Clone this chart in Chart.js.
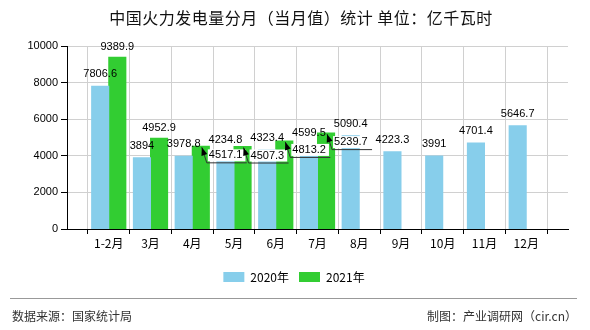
<!DOCTYPE html>
<html>
<head>
<meta charset="utf-8">
<script src="https://cdn.jsdelivr.net/npm/chart.js@4/dist/chart.umd.min.js"></script>
<style>
  html, body { margin: 0; padding: 0; background: #fff; }
  #wrap { position: relative; width: 590px; height: 330px; overflow: hidden; font-family: "Noto Sans CJK SC", sans-serif; }
  #chart { position: absolute; left: 0; top: 0; }
  #title { position: absolute; left: 6px; top: 6px; width: 590px; text-align: center; font-size: 16px; line-height: 22px; letter-spacing: 0.5px; color: #111; }
  #sep { position: absolute; left: 10px; top: 298px; width: 567px; height: 1px; background: #999; }
  #src { position: absolute; left: 12px; top: 307px; font-size: 12px; line-height: 18px; color: #333; }
  #maker { position: absolute; right: 13px; top: 307px; font-size: 12px; line-height: 18px; color: #333; }
</style>
</head>
<body>
<div id="wrap">
  <canvas id="chart" width="590" height="330"></canvas>
  <div id="title">中国火力发电量分月（当月值）统计 单位：亿千瓦时</div>
  <div id="sep"></div>
  <div id="src">数据来源：国家统计局</div>
  <div id="maker">制图：产业调研网（cir.cn）</div>
</div>
<script>
const categories = ['1-2月', '3月', '4月', '5月', '6月', '7月', '8月', '9月', '10月', '11月', '12月'];
const seriesNames = ['2020年', '2021年'];
const values2020 = [7806.6, 3894, 3978.8, 4234.8, 4323.4, 4599.5, 5090.4, 4223.3, 3991, 4701.4, 5646.7];
const values2021 = [9389.9, 4952.9, 4517.1, 4507.3, 4813.2, 5239.7, null, null, null, null, null];
const yTicks = [0, 2000, 4000, 6000, 8000, 10000];

Chart.defaults.font.family = '"Noto Sans CJK SC", "Liberation Sans", sans-serif';
Chart.defaults.color = '#000';

const labels = [''].concat(categories, ['']);
const pad = arr => [null].concat(arr, [null]);

const labelPlugin = {
  id: 'barLabels',
  afterDatasetsDraw(chart) {
    const ctx = chart.ctx;
    ctx.save();
    ctx.font = '11px "Liberation Sans", sans-serif';
    ctx.textBaseline = 'middle';
    ctx.fillStyle = '#000';
    const H = 12;
    const m0 = chart.getDatasetMeta(0), m1 = chart.getDatasetMeta(1);
    const d0 = chart.data.datasets[0].data, d1 = chart.data.datasets[1].data;
    const boxes = [];
    m0.data.forEach((bar, i) => {
      const v = d0[i];
      if (v == null) return;
      const t = String(v);
      const w = ctx.measureText(t).width;
      const cx = bar.x, cy = bar.y - 12;
      ctx.textAlign = 'center';
      ctx.fillText(t, cx, cy);
      boxes[i] = { l: cx - w / 2, r: cx + w / 2, t: cy - H / 2, b: cy + H / 2 };
    });
    const callouts = [];
    m1.data.forEach((bar, i) => {
      const v = d1[i];
      if (v == null) return;
      const t = String(v);
      const w = ctx.measureText(t).width;
      const cx = bar.x, cy = bar.y - 10;
      const b0 = boxes[i];
      const overlap = b0 && (cx - w / 2 < b0.r) && (cy + H / 2 > b0.t) && (cy - H / 2 < b0.b);
      if (!overlap) {
        ctx.textAlign = 'center';
        ctx.fillText(t, cx, cy);
      } else {
        callouts.push({ x: bar.x, y: bar.y, t, w });
      }
    });
    callouts.forEach(c => {
      const tipX = c.x + 1, tipY = c.y + 1;
      const ex = tipX + 5, ey = tipY + 15;
      const tx = tipX + 7;
      ctx.fillStyle = '#fff';
      ctx.fillRect(tx - 1, tipY + 2, c.w + 4, ey - tipY - 3);
      ctx.strokeStyle = '#333';
      ctx.lineWidth = 1;
      ctx.beginPath();
      ctx.moveTo(tipX, tipY);
      ctx.lineTo(ex, ey + 0.5);
      ctx.lineTo(ex + 40, ey + 0.5);
      ctx.stroke();
      const ang = Math.atan2(tipY - ey, tipX - ex);
      const L = 8, Wd = 3;
      ctx.fillStyle = '#000';
      ctx.beginPath();
      ctx.moveTo(tipX, tipY);
      ctx.lineTo(tipX - L * Math.cos(ang) + Wd * Math.sin(ang), tipY - L * Math.sin(ang) - Wd * Math.cos(ang));
      ctx.lineTo(tipX - L * Math.cos(ang) - Wd * Math.sin(ang), tipY - L * Math.sin(ang) + Wd * Math.cos(ang));
      ctx.closePath();
      ctx.fill();
      ctx.fillStyle = '#000';
      ctx.textAlign = 'left';
      ctx.fillText(c.t, tx, tipY + 8);
    });
    ctx.restore();
  }
};

new Chart(document.getElementById('chart'), {
  type: 'bar',
  data: {
    labels: labels,
    datasets: [
      { label: seriesNames[0], data: pad(values2020), backgroundColor: '#87CEEB', categoryPercentage: 0.82, barPercentage: 1, inflateAmount: 0.5 },
      { label: seriesNames[1], data: pad(values2021), backgroundColor: '#32CD32', categoryPercentage: 0.82, barPercentage: 1, inflateAmount: 0.5 }
    ]
  },
  options: {
    responsive: false,
    animation: false,
    devicePixelRatio: 1,
    layout: { padding: { left: 20, right: 22, top: 46, bottom: 37 } },
    plugins: {
      tooltip: { enabled: false },
      legend: {
        position: 'bottom',
        labels: { boxWidth: 21, boxHeight: 10, padding: 10, font: { size: 12 }, color: '#000' }
      }
    },
    scales: {
      x: {
        offset: false,
        grid: { color: '#d0d0d0', tickColor: '#000', tickLength: 5, drawTicks: true },
        border: { color: '#000', width: 1 },
        ticks: { autoSkip: false, maxRotation: 0, minRotation: 0, padding: 2, font: { size: 12 }, color: '#000' },
        afterFit: s => { s.height = 32; }
      },
      y: {
        min: 0, max: 10000,
        afterBuildTicks: s => { s.ticks = yTicks.map(v => ({ value: v })); },
        grid: { color: '#d0d0d0', tickColor: '#000', tickLength: 6 },
        border: { color: '#000', width: 1 },
        ticks: { padding: 3, font: { size: 11, family: '"Liberation Sans", sans-serif' }, color: '#000', callback: v => String(v) },
        afterFit: s => { s.width = 47; }
      }
    }
  },
  plugins: [labelPlugin]
});
</script>
</body>
</html>
